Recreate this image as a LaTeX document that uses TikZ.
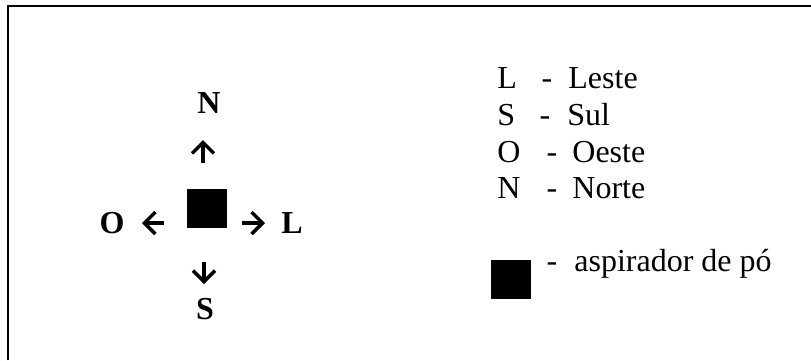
\documentclass[tikz,border=0pt]{standalone}
\usepackage{fontspec}
\setmainfont{Liberation Serif}
\usetikzlibrary{arrows.meta}

\tikzset{
  dirlabel/.style={anchor=base, inner sep=0pt, font=\fontsize{16}{19}\selectfont\bfseries},
  legtext/.style={anchor=base west, inner sep=0pt, font=\fontsize{16}{19}\selectfont},
  legdash/.style={anchor=base, inner sep=0pt, font=\fontsize{16}{19}\selectfont},
  dirarrow/.style={line width=1.7pt, -{Straight Barb[length=5.5pt,width=11pt]}},
  robot/.style={fill=black, draw=none, inner sep=0pt, minimum width=20pt, minimum height=19.5pt}
}

\begin{document}
\begin{tikzpicture}[x=0.5pt,y=-0.5pt]
            \useasboundingbox (0,0) rectangle (811,360);
            % Frame (only top and left edges show)
            \draw[line width=1pt] (8,360) -- (8,6) -- (811,6);

            % Vacuum cleaner and directions
            \node[robot] (aspo) at (207,208.5) {};
            \node[dirlabel] (n) at (209,113) {N};
            \node[dirlabel] (s) at (205,319) {S};
            \node[dirlabel] (o) at (112,233) {O};
            \node[dirlabel] (l) at (292,233) {L};

            % Arrows
            \coordinate (nt) at (203,163);
            \coordinate (nh) at (203,140);
            \coordinate (st) at (204,262);
            \coordinate (sh) at (204,284);
            \coordinate (ot) at (164,223);
            \coordinate (oh) at (142,223);
            \coordinate (lt) at (242,223);
            \coordinate (lh) at (265,223);
            \draw[dirarrow] (nt) -- (nh);
            \draw[dirarrow] (st) -- (sh);
            \draw[dirarrow] (ot) -- (oh);
            \draw[dirarrow] (lt) -- (lh);

            % Legend
            \node[legtext] (kl) at (497,88) {L};
            \node[legdash] (dl) at (547,88) {-};
            \node[legtext] (wl) at (568,88) {Leste};
            \node[legtext] (ks) at (497,125) {S};
            \node[legdash] (ds) at (545,125) {-};
            \node[legtext] (ws) at (567,125) {Sul};
            \node[legtext] (ko) at (497,162) {O};
            \node[legdash] (do) at (552,162) {-};
            \node[legtext] (wo) at (572,162) {Oeste};
            \node[legtext] (kn) at (497,198) {N};
            \node[legdash] (dn) at (552,198) {-};
            \node[legtext] (wn) at (572,198) {Norte};

            \node[robot] (kasp) at (510.5,279.5) {};
            \node[legdash] (dasp) at (552,271) {-};
            \node[legtext] (wasp) at (574,271) {aspirador de pó};
        \end{tikzpicture}
\end{document}
